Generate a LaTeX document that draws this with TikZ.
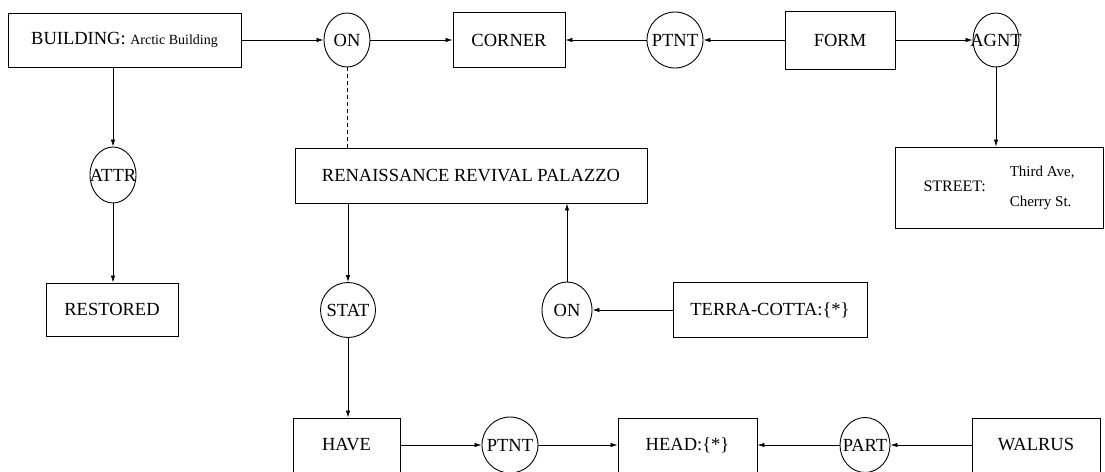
\documentclass[tikz,border=0pt]{standalone}
\usepackage{fontspec}
\setmainfont{Liberation Serif}
\usetikzlibrary{arrows.meta,shapes.geometric}
\newcommand{\rlab}[1]{\makebox[0pt]{#1}}
\tikzset{
  cbox/.style={draw, rectangle, inner sep=0pt, line width=0.9pt, font=\fontsize{18.5}{22}\selectfont},
  rel/.style={draw, ellipse, inner sep=0pt, line width=0.9pt, font=\fontsize{18.5}{22}\selectfont},
  conn/.style={line width=0.8pt, -{Latex[length=7pt,width=4.5pt]}},
  dconn/.style={line width=0.8pt, dash pattern=on 4pt off 3pt}
}
\begin{document}
\begin{tikzpicture}[x=1pt,y=-1pt]
\useasboundingbox (0,0) rectangle (1105,471);
% top row
\node[cbox, minimum width=233pt, minimum height=54pt] (bld) at (124.5,40) {BUILDING: {\fontsize{14}{16}\selectfont Arctic Building}};
\node[rel, minimum width=46pt, minimum height=54pt] (on1) at (347,40) {\rlab{ON}};
\node[cbox, minimum width=112pt, minimum height=55pt] (corner) at (509,40) {CORNER};
\node[rel, minimum width=56pt, minimum height=56pt] (ptnt1) at (675,40) {\rlab{PTNT}};
\node[cbox, minimum width=110pt, minimum height=58pt] (form) at (840,40) {FORM};
\node[rel, minimum width=46pt, minimum height=54pt] (agnt) at (996,40) {\rlab{AGNT}};
% second row
\node[rel, minimum width=46pt, minimum height=56pt] (attr) at (113,175) {\rlab{ATTR}};
\node[cbox, minimum width=352pt, minimum height=55pt] (ren) at (471,175.5) {RENAISSANCE REVIVAL PALAZZO};
\node[cbox, minimum width=208pt, minimum height=81pt] (street) at (999,187.5)
  {\fontsize{16}{18}\selectfont STREET:\hspace{24pt}\begin{tabular}{@{}l@{}}\fontsize{15}{18}\selectfont Third Ave,\\[12pt]\fontsize{15}{18}\selectfont Cherry St.\end{tabular}};
% third row
\node[cbox, minimum width=132pt, minimum height=53pt] (restored) at (112,309.5) {RESTORED};
\node[rel, minimum width=55pt, minimum height=55pt] (stat) at (348,310) {\rlab{STAT}};
\node[rel, minimum width=50pt, minimum height=56pt] (on2) at (567,310) {\rlab{ON}};
\node[cbox, minimum width=194pt, minimum height=55pt] (terra) at (770,310) {TERRA-COTTA:\{*\}};
% bottom row
\node[cbox, minimum width=107pt, minimum height=54pt] (have) at (346.5,445) {HAVE};
\node[rel, minimum width=56pt, minimum height=56pt] (ptnt2) at (510,445) {\rlab{PTNT}};
\node[cbox, minimum width=139pt, minimum height=54pt] (head) at (687.5,445) {HEAD:\{*\}};
\node[rel, minimum width=50pt, minimum height=55pt] (part) at (865,445) {\rlab{PART}};
\node[cbox, minimum width=128pt, minimum height=54pt] (walrus) at (1036,445) {WALRUS};
% connectors
\draw[conn] (bld.east) -- (on1.west);
\draw[conn] (on1.east) -- (corner.west);
\draw[conn] (ptnt1.west) -- (corner.east);
\draw[conn] (form.west) -- (ptnt1.east);
\draw[conn] (form.east) -- (agnt.west);
\draw[conn] (agnt.south) -- (agnt.south |- street.north);
\draw[conn] (attr.north |- bld.south) -- (attr.north);
\draw[conn] (attr.south) -- (attr.south |- restored.north);
\draw[dconn] (on1.south) -- (on1.south |- ren.north);
\draw[conn] (stat.north |- ren.south) -- (stat.north);
\draw[conn] (stat.south) -- (stat.south |- have.north);
\draw[conn] (on2.north) -- (on2.north |- ren.south);
\draw[conn] (terra.west) -- (on2.east);
\draw[conn] (have.east) -- (ptnt2.west);
\draw[conn] (ptnt2.east) -- (head.west);
\draw[conn] (part.west) -- (head.east);
\draw[conn] (walrus.west) -- (part.east);
\end{tikzpicture}
\end{document}
